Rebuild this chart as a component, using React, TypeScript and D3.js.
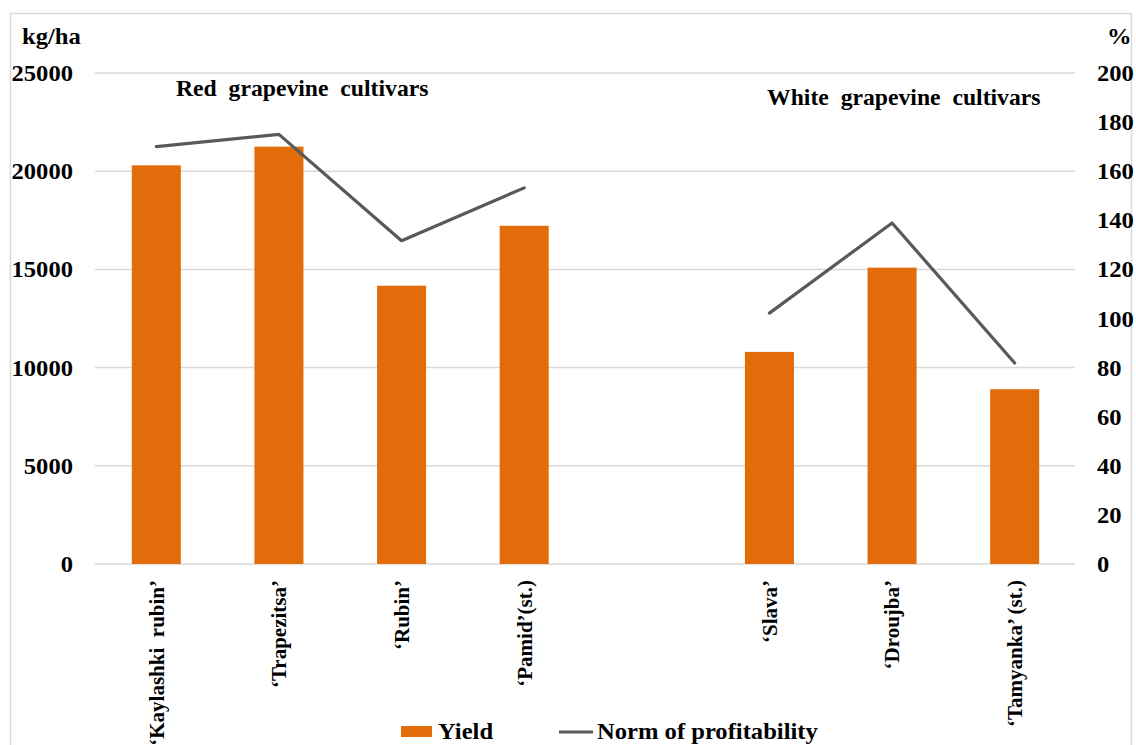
import React from "react";
import * as d3 from "d3";

const categories = [
  "‘Kaylashki  rubin’",
  "‘Trapezitsa’",
  "‘Rubin’",
  "‘Pamid’(st.)",
  "",
  "‘Slava’",
  "‘Droujba’",
  "‘Tamyanka’ (st.)",
];
const yieldValues: (number | null)[] = [20300, 21250, 14170, 17220, null, 10800, 15090, 8900];
const profitValues: (number | null)[] = [170, 175, 131.7, 153.2, null, 102.2, 138.9, 81.9];
const leftTicks = [0, 5000, 10000, 15000, 20000, 25000];
const rightTicks = [0, 20, 40, 60, 80, 100, 120, 140, 160, 180, 200];

const W = 1136;
const H = 745;
const FONT = "'Liberation Serif', 'Times New Roman', serif";
const BAR = "#E36C0A";
const LINE = "#595959";
const GRID = "#D9D9D9";
const SX = 1.07;
const SX2 = 1.03;

function T(props: {
  x: number;
  y: number;
  sx?: number;
  anchor?: "start" | "end" | "middle";
  dy?: string;
  size?: number;
  children: React.ReactNode;
}) {
  const { x, y, sx = SX, anchor = "start", dy, size = 23, children } = props;
  return (
    <text
      transform={`translate(${x},${y}) scale(${sx},1)`}
      textAnchor={anchor}
      dy={dy}
      fontSize={size}
      style={{ whiteSpace: "pre" }}
    >
      {children}
    </text>
  );
}

export default function App() {
  const x = d3
    .scalePoint<number>()
    .domain(categories.map((_, i) => i))
    .range([95, 1076])
    .padding(0.5);
  const barW = x.step() * 0.4;
  const yL = d3.scaleLinear().domain([0, 25000]).range([564, 73]);
  const yR = d3.scaleLinear().domain([0, 200]).range([564, 73]);

  const line = d3
    .line<number | null>()
    .defined((d) => d !== null)
    .x((_, i) => x(i) as number)
    .y((d) => yR(d as number));

  return (
    <svg
      width={W}
      height={H}
      style={{ position: "absolute", left: 0, top: 0, background: "#fff" }}
      fontFamily={FONT}
      fontWeight="bold"
    >
      <rect x={10.5} y={13.5} width={1121} height={760} fill="none" stroke="#D9D9D9" strokeWidth={1.5} />
      {leftTicks.map((t) => (
        <line key={t} x1={95} x2={1075} y1={yL(t)} y2={yL(t)} stroke={GRID} strokeWidth={1.5} />
      ))}
      {yieldValues.map((v, i) =>
        v === null ? null : (
          <rect
            key={i}
            x={(x(i) as number) - barW / 2}
            y={yL(v)}
            width={barW}
            height={yL(0) - yL(v)}
            fill={BAR}
          />
        )
      )}
      <path d={line(profitValues) || ""} fill="none" stroke={LINE} strokeWidth={3.2} strokeLinejoin="round" strokeLinecap="round" />
      {leftTicks.map((t) => (
        <T key={t} x={73} y={yL(t)} dy="0.35em" anchor="end">
          {t}
        </T>
      ))}
      {rightTicks.map((t) => (
        <T key={t} x={1097} y={yR(t)} dy="0.35em">
          {t}
        </T>
      ))}
      <T x={22} y={44}>kg/ha</T>
      <T x={1107} y={44}>%</T>
      <T x={176} y={96} sx={SX2}>{"Red  grapevine  cultivars"}</T>
      <T x={767} y={105} sx={SX2}>{"White  grapevine  cultivars"}</T>
      {categories.map((c, i) =>
        c === "" ? null : (
          <text
            key={i}
            transform={`translate(${x(i)},580) rotate(-90)`}
            textAnchor="end"
            dy="0.35em"
            fontSize={21}
            style={{ whiteSpace: "pre" }}
          >
            {c}
          </text>
        )
      )}
      <rect x={401} y={726} width={31} height={11} fill={BAR} />
      <T x={438} y={739}>Yield</T>
      <line x1={559} x2={593} y1={732} y2={732} stroke={LINE} strokeWidth={3.2} />
      <T x={597} y={739}>Norm of profitability</T>
    </svg>
  );
}
